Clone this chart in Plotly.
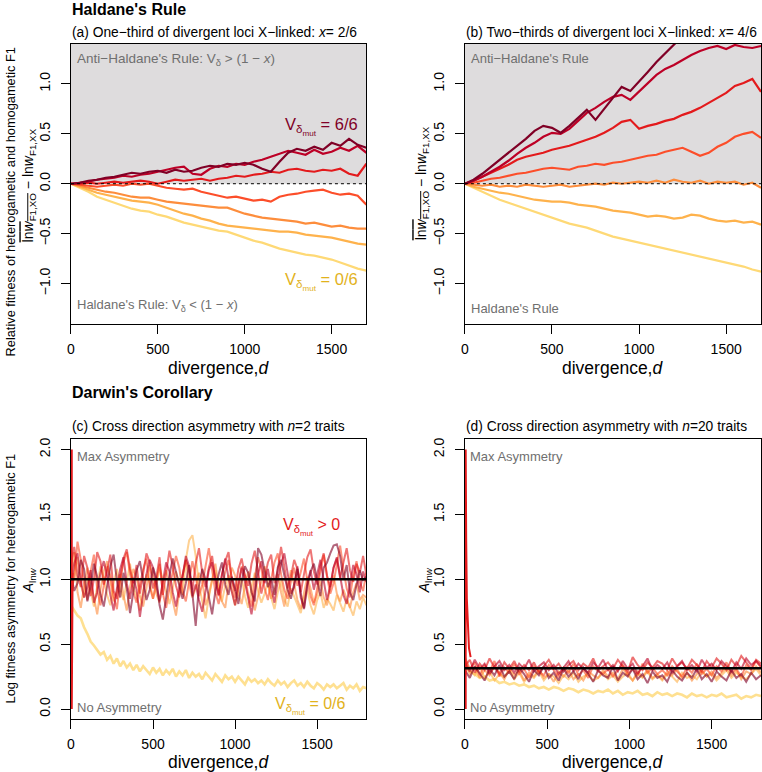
import plotly.graph_objects as go

# ---------------- data ----------------
D_AB = list(range(0, 1701, 50))   # divergence grid, panels (a),(b)
D_C = list(range(0, 1801, 20))    # divergence grid, panel (c)
D_D = list(range(0, 1801, 30))    # divergence grid, panel (d)

COLORS = ["#800026", "#bd0026", "#e31a1c", "#fc4e2a", "#fd8d3c", "#feb24c", "#fed976"]

# panel (a): x = 2/6, V_delta_mut = 6/6 ... 0/6
A1 = [0, 0.01, 0.03, 0.04, 0.06, 0.07, 0.09, 0.11, 0.10, 0.12, 0.13, 0.11, 0.14, 0.12, 0.13, 0.16, 0.18, 0.17,
      0.20, 0.19, 0.21, 0.19, 0.15, 0.12, 0.22, 0.31, 0.35, 0.33, 0.37, 0.34, 0.41, 0.38, 0.45, 0.39, 0.36]
A2 = [0, 0.01, 0.02, 0.04, 0.05, 0.06, 0.08, 0.07, 0.09, 0.10, 0.12, 0.14, 0.16, 0.17, 0.10, 0.09, 0.15, 0.18,
      0.17, 0.20, 0.19, 0.22, 0.24, 0.27, 0.30, 0.33, 0.31, 0.29, 0.34, 0.30, 0.32, 0.36, 0.33, 0.38, 0.31]
A3 = [0, 0.0, 0.01, 0.0, 0.01, 0.02, 0.01, 0.02, 0.03, 0.02, 0.0, 0.02, 0.04, 0.03, 0.04, 0.05, 0.03, 0.05,
      0.06, 0.08, 0.07, 0.09, 0.10, 0.12, 0.11, 0.14, 0.15, 0.13, 0.12, 0.14, 0.13, 0.15, 0.10, 0.08, 0.20]
A4 = [0, -0.01, -0.02, -0.03, -0.02, -0.01, -0.02, 0.0, -0.01, 0.0, -0.02, -0.04, -0.05, -0.06, -0.05, -0.08,
      -0.10, -0.12, -0.14, -0.13, -0.15, -0.17, -0.16, -0.18, -0.13, -0.11, -0.10, -0.08, -0.07, -0.06, -0.09,
      -0.11, -0.10, -0.12, -0.21]
A5 = [0, -0.02, -0.04, -0.06, -0.08, -0.09, -0.11, -0.13, -0.14, -0.14, -0.16, -0.18, -0.19, -0.20, -0.21,
      -0.22, -0.23, -0.24, -0.24, -0.27, -0.30, -0.32, -0.34, -0.35, -0.36, -0.37, -0.38, -0.40, -0.39, -0.41,
      -0.43, -0.42, -0.44, -0.45, -0.45]
A6 = [0, -0.03, -0.06, -0.09, -0.11, -0.13, -0.15, -0.17, -0.18, -0.19, -0.21, -0.24, -0.27, -0.30, -0.32,
      -0.35, -0.37, -0.40, -0.42, -0.43, -0.44, -0.45, -0.46, -0.47, -0.48, -0.48, -0.49, -0.51, -0.52, -0.53,
      -0.54, -0.56, -0.58, -0.60, -0.61]
A7 = [0, -0.04, -0.08, -0.13, -0.16, -0.19, -0.22, -0.25, -0.27, -0.28, -0.31, -0.33, -0.36, -0.39, -0.41,
      -0.43, -0.45, -0.47, -0.48, -0.51, -0.54, -0.57, -0.59, -0.62, -0.65, -0.67, -0.69, -0.71, -0.72, -0.74,
      -0.76, -0.79, -0.82, -0.85, -0.87]

# panel (b): x = 4/6
B1 = [0, 0.04, 0.10, 0.17, 0.24, 0.31, 0.38, 0.45, 0.53, 0.58, 0.56, 0.51, 0.58, 0.66, 0.74, 0.64, 0.75, 0.86,
      0.97, 0.93, 1.02, 1.12, 1.22, 1.31, 1.40, 1.48, 1.55, 1.60, 1.66, 1.70, 1.75, 1.79, 1.83, 1.86, 1.90]
B2 = [0, 0.03, 0.07, 0.12, 0.17, 0.23, 0.30, 0.36, 0.41, 0.47, 0.51, 0.50, 0.55, 0.63, 0.71, 0.76, 0.82, 0.87,
      0.89, 0.84, 0.92, 1.01, 1.09, 1.15, 1.19, 1.24, 1.29, 1.33, 1.36, 1.38, 1.35, 1.39, 1.37, 1.36, 1.38]
B3 = [0, 0.03, 0.07, 0.11, 0.15, 0.19, 0.24, 0.27, 0.29, 0.31, 0.34, 0.36, 0.38, 0.41, 0.44, 0.47, 0.51, 0.56,
      0.62, 0.64, 0.55, 0.58, 0.60, 0.63, 0.65, 0.69, 0.72, 0.76, 0.81, 0.86, 0.91, 0.98, 1.01, 1.05, 0.92]
B4 = [0, 0.01, 0.03, 0.05, 0.06, 0.08, 0.10, 0.11, 0.13, 0.15, 0.16, 0.15, 0.14, 0.17, 0.18, 0.20, 0.19, 0.21,
      0.22, 0.24, 0.26, 0.28, 0.29, 0.32, 0.34, 0.36, 0.32, 0.28, 0.31, 0.37, 0.41, 0.47, 0.50, 0.52, 0.46]
B5 = [0, -0.01, -0.02, -0.01, -0.03, -0.02, -0.03, -0.01, -0.02, -0.03, -0.02, -0.01, -0.03, -0.02, -0.01, 0.0,
      -0.01, 0.01, 0.0, 0.01, 0.02, 0.01, 0.03, 0.01, 0.04, 0.02, 0.01, 0.03, 0.0, 0.02, 0.01, 0.02, -0.01,
      0.01, -0.04]
B6 = [0, -0.03, -0.05, -0.07, -0.09, -0.10, -0.12, -0.14, -0.16, -0.17, -0.18, -0.18, -0.19, -0.21, -0.22,
      -0.23, -0.25, -0.27, -0.28, -0.29, -0.31, -0.33, -0.32, -0.33, -0.35, -0.34, -0.31, -0.32, -0.35, -0.37,
      -0.38, -0.37, -0.39, -0.38, -0.41]
B7 = [0, -0.04, -0.08, -0.12, -0.16, -0.19, -0.22, -0.25, -0.28, -0.31, -0.34, -0.37, -0.40, -0.42, -0.44,
      -0.47, -0.50, -0.53, -0.55, -0.57, -0.59, -0.61, -0.63, -0.65, -0.67, -0.69, -0.71, -0.73, -0.75, -0.77,
      -0.79, -0.81, -0.83, -0.86, -0.88]

# panel (c): n = 2 traits (step 20)
C1 = [1.04, 0.91, 0.97, 1.15, 1.08, 0.83, 0.95, 1.12, 1.02, 0.88,
      0.79, 0.96, 1.10, 1.19, 0.99, 0.86, 1.05, 0.93, 0.74, 0.90,
      1.07, 1.14, 0.98, 0.84, 0.92, 1.09, 1.01, 0.80, 0.69, 0.87,
      1.03, 1.16, 1.06, 0.94, 0.85, 0.97, 1.11, 0.89, 0.64, 0.95,
      1.08, 1.00, 0.86, 0.73, 0.91, 1.04, 1.13, 0.96, 0.88, 1.02,
      0.93, 0.81, 0.98, 1.10, 1.05, 0.90, 0.83, 1.24, 1.19, 1.06,
      0.94, 1.01, 0.88, 1.09, 1.15, 1.03, 0.92, 0.85, 0.97, 1.08,
      0.89, 0.77, 0.95, 1.06, 1.12, 0.98, 0.87, 1.09, 1.13, 1.20,
      1.26, 1.27, 1.18, 1.00, 1.11, 0.90, 0.84, 0.96, 1.07, 0.99, 1.02]
C2 = [0.96, 1.12, 1.20, 0.99, 0.86, 0.94, 1.07, 0.82, 0.90, 1.05,
      1.14, 1.03, 0.88, 0.76, 0.93, 1.08, 1.17, 0.97, 0.85, 1.01,
      0.92, 0.71, 0.89, 1.04, 1.15, 1.09, 0.95, 0.83, 0.98, 1.13,
      1.06, 0.90, 0.79, 0.94, 1.02, 1.18, 1.10, 0.87, 0.96, 0.84,
      0.75, 0.92, 1.07, 1.13, 0.99, 0.88, 1.03, 1.16, 1.01, 0.91,
      0.80, 0.95, 1.09, 0.98, 0.86, 0.73, 0.90, 1.04, 1.14, 0.97,
      1.08, 0.93, 0.82, 0.99, 1.12, 1.20, 1.05, 0.89, 0.94, 1.10,
      0.86, 0.78, 0.97, 1.07, 0.92, 1.03, 1.15, 0.99, 0.84, 0.95,
      1.09, 1.17, 1.02, 0.88, 0.81, 0.96, 1.11, 1.04, 0.90, 1.06, 0.98]
C3 = [1.12, 1.25, 1.03, 0.94, 1.18, 1.09, 0.87, 1.00, 1.21, 1.14,
      0.96, 1.06, 1.19, 0.91, 0.85, 1.02, 1.16, 1.23, 1.08, 0.97,
      1.11, 0.89, 1.04, 1.20, 1.13, 0.93, 1.01, 1.17, 0.88, 1.06,
      1.22, 1.10, 0.95, 0.86, 1.03, 1.15, 1.07, 0.92, 1.12, 1.24,
      1.05, 0.94, 1.09, 1.18, 0.99, 0.87, 1.04, 1.14, 1.21, 1.00,
      0.91, 1.08, 1.16, 1.03, 0.95, 1.12, 1.22, 1.06, 0.89, 1.01,
      1.13, 1.19, 0.97, 1.07, 1.25, 1.10, 0.93, 1.02, 1.15, 1.08,
      0.90, 1.04, 1.17, 1.23, 1.06, 0.96, 1.11, 1.20, 1.03, 0.94,
      1.09, 1.16, 1.01, 1.13, 1.24, 1.07, 0.98, 1.12, 1.05, 1.18, 1.03]
C4 = [0.88, 1.02, 1.29, 1.15, 0.97, 0.84, 1.06, 1.19, 0.92, 0.80,
      0.95, 1.10, 1.03, 0.87, 0.77, 0.99, 1.13, 1.21, 1.04, 0.90,
      0.82, 0.96, 1.08, 1.16, 0.94, 0.85, 1.00, 1.12, 0.89, 0.78,
      0.93, 1.05, 1.18, 1.09, 0.91, 0.83, 0.98, 1.14, 1.02, 0.87,
      0.96, 1.11, 1.24, 1.07, 0.90, 0.81, 0.94, 1.06, 1.15, 0.99,
      0.86, 0.97, 1.10, 1.03, 0.88, 0.79, 1.01, 1.17, 1.08, 0.93,
      0.84, 1.00, 1.13, 1.20, 1.04, 0.92, 0.85, 0.98, 1.09, 0.95,
      1.06, 1.16, 0.99, 0.87, 0.80, 0.94, 1.07, 1.19, 1.02, 0.89,
      0.97, 1.12, 1.26, 1.08, 0.93, 0.86, 1.03, 1.14, 0.98, 0.91, 1.05]
C5 = [1.00, 1.21, 0.90, 0.78, 0.95, 1.09, 0.99, 0.85, 0.73, 0.92,
      1.06, 1.14, 0.97, 0.83, 0.91, 1.04, 0.88, 0.76, 0.94, 1.08,
      1.01, 0.87, 0.79, 0.93, 1.11, 1.03, 0.89, 0.82, 0.98, 1.07,
      0.95, 0.84, 0.72, 0.90, 1.02, 1.15, 0.96, 0.86, 0.93, 1.05,
      0.99, 0.80, 0.88, 1.01, 1.12, 0.94, 0.83, 0.78, 0.97, 1.09,
      1.03, 0.89, 0.81, 0.95, 1.06, 0.92, 0.76, 0.87, 1.00, 1.10,
      0.98, 0.85, 0.92, 1.04, 0.90, 0.79, 0.94, 1.07, 0.96, 0.84,
      0.77, 0.91, 1.02, 0.93, 0.82, 0.88, 0.99, 0.86, 0.80, 0.94,
      1.03, 0.89, 0.83, 0.92, 0.85, 0.78, 0.90, 0.97, 0.84, 0.88, 0.86]
C6 = [0.83, 1.05, 1.17, 0.96, 0.86, 1.02, 0.91, 0.79, 0.95, 1.10,
      1.01, 0.88, 0.80, 0.97, 1.08, 0.93, 0.84, 0.99, 1.12, 0.94,
      0.87, 0.76, 0.92, 1.04, 0.98, 0.85, 0.95, 1.09, 1.00, 0.89,
      0.81, 0.93, 1.06, 0.97, 0.88, 1.15, 1.30, 1.34, 1.18, 0.96,
      0.84, 0.70, 0.86, 0.99, 1.07, 0.92, 0.83, 0.95, 1.03, 0.90,
      0.80, 0.92, 1.01, 0.87, 0.78, 0.94, 1.05, 0.91, 0.82, 0.89,
      0.97, 0.86, 0.77, 0.90, 0.99, 0.85, 0.79, 0.93, 0.87, 0.81,
      0.74, 0.86, 0.92, 0.80, 0.73, 0.84, 0.90, 0.78, 0.85, 0.81,
      0.76, 0.88, 0.82, 0.75, 0.85, 0.79, 0.72, 0.83, 0.77, 0.86, 0.80]
C7 = [0.80, 0.76, 0.72, 0.70, 0.63, 0.58, 0.52, 0.49, 0.45, 0.42,
      0.44, 0.38, 0.41, 0.35, 0.39, 0.33, 0.37, 0.32, 0.35, 0.30,
      0.34, 0.29, 0.33, 0.30, 0.27, 0.32, 0.28, 0.31, 0.26, 0.30,
      0.27, 0.31, 0.25, 0.29, 0.26, 0.30, 0.24, 0.28, 0.25, 0.27,
      0.23, 0.28, 0.25, 0.22, 0.27, 0.24, 0.21, 0.26, 0.23, 0.25,
      0.21, 0.25, 0.22, 0.19, 0.24, 0.21, 0.23, 0.20, 0.22, 0.19,
      0.23, 0.20, 0.18, 0.22, 0.19, 0.21, 0.17, 0.20, 0.22, 0.18,
      0.20, 0.17, 0.21, 0.18, 0.16, 0.20, 0.18, 0.15, 0.19, 0.17,
      0.19, 0.16, 0.18, 0.20, 0.15, 0.18, 0.16, 0.19, 0.14, 0.17, 0.16]

# panel (d): n = 20 traits (step 30)
D1 = [0.30, 0.24, 0.33, 0.27, 0.22, 0.31, 0.26, 0.34, 0.25, 0.29,
      0.23, 0.32, 0.27, 0.21, 0.30, 0.26, 0.33, 0.24, 0.28, 0.22,
      0.31, 0.25, 0.29, 0.23, 0.32, 0.27, 0.21, 0.30, 0.26, 0.24,
      0.33, 0.22, 0.28, 0.25, 0.31, 0.23, 0.27, 0.20, 0.29, 0.24,
      0.26, 0.21, 0.30, 0.25, 0.22, 0.28, 0.24, 0.31, 0.23, 0.27,
      0.21, 0.29, 0.25, 0.22, 0.30, 0.24, 0.27, 0.21, 0.28, 0.23, 0.26]
D2 = [0.36, 0.29, 0.38, 0.31, 0.35, 0.27, 0.33, 0.37, 0.30, 0.34,
      0.28, 0.35, 0.31, 0.38, 0.29, 0.33, 0.36, 0.30, 0.34, 0.27,
      0.32, 0.37, 0.29, 0.35, 0.31, 0.28, 0.36, 0.32, 0.38, 0.30,
      0.34, 0.29, 0.37, 0.31, 0.35, 0.27, 0.33, 0.39, 0.30, 0.34,
      0.31, 0.36, 0.28, 0.33, 0.37, 0.30, 0.34, 0.29, 0.38, 0.32,
      0.35, 0.30, 0.37, 0.33, 0.29, 0.36, 0.31, 0.39, 0.34, 0.37, 0.33]
D3 = [0.33, 0.38, 0.28, 0.35, 0.30, 0.39, 0.32, 0.27, 0.36, 0.31,
      0.37, 0.29, 0.34, 0.30, 0.36, 0.28, 0.33, 0.38, 0.31, 0.35,
      0.29, 0.34, 0.37, 0.30, 0.35, 0.32, 0.39, 0.30, 0.33, 0.36,
      0.31, 0.38, 0.33, 0.29, 0.40, 0.34, 0.30, 0.36, 0.32, 0.37,
      0.35, 0.30, 0.39, 0.33, 0.36, 0.31, 0.38, 0.34, 0.29, 0.37,
      0.32, 0.39, 0.35, 0.30, 0.38, 0.33, 0.41, 0.36, 0.31, 0.38, 0.35]
D4 = [0.40, 0.31, 0.36, 0.26, 0.34, 0.29, 0.37, 0.25, 0.32, 0.28,
      0.35, 0.27, 0.31, 0.24, 0.33, 0.29, 0.26, 0.34, 0.30, 0.25,
      0.32, 0.28, 0.35, 0.26, 0.30, 0.24, 0.33, 0.29, 0.27, 0.31,
      0.25, 0.30, 0.34, 0.27, 0.31, 0.26, 0.35, 0.28, 0.32, 0.27,
      0.30, 0.26, 0.33, 0.29, 0.25, 0.32, 0.28, 0.35, 0.27, 0.31,
      0.26, 0.33, 0.29, 0.36, 0.28, 0.31, 0.25, 0.34, 0.30, 0.37, 0.32]
D5 = [0.35, 0.27, 0.32, 0.24, 0.30, 0.26, 0.33, 0.28, 0.23, 0.31,
      0.26, 0.30, 0.22, 0.28, 0.25, 0.31, 0.24, 0.27, 0.21, 0.29,
      0.25, 0.30, 0.23, 0.27, 0.22, 0.29, 0.26, 0.24, 0.30, 0.25,
      0.28, 0.23, 0.31, 0.26, 0.22, 0.29, 0.25, 0.30, 0.24, 0.27,
      0.23, 0.29, 0.26, 0.31, 0.24, 0.28, 0.22, 0.27, 0.30, 0.25,
      0.29, 0.24, 0.28, 0.32, 0.26, 0.30, 0.23, 0.29, 0.27, 0.33, 0.28]
D6 = [0.38, 0.30, 0.26, 0.33, 0.24, 0.29, 0.22, 0.27, 0.25, 0.30,
      0.23, 0.28, 0.21, 0.26, 0.24, 0.29, 0.22, 0.27, 0.25, 0.20,
      0.26, 0.23, 0.28, 0.21, 0.25, 0.27, 0.22, 0.24, 0.28, 0.23,
      0.26, 0.21, 0.25, 0.28, 0.22, 0.27, 0.24, 0.29, 0.23, 0.26,
      0.22, 0.27, 0.25, 0.21, 0.28, 0.24, 0.26, 0.23, 0.29, 0.25,
      0.27, 0.22, 0.26, 0.30, 0.24, 0.28, 0.25, 0.23, 0.27, 0.31, 0.26]
D7 = [0.34, 0.29, 0.27, 0.24, 0.25, 0.22, 0.23, 0.20, 0.21, 0.19,
      0.20, 0.18, 0.19, 0.17, 0.18, 0.16, 0.17, 0.15, 0.17, 0.16,
      0.14, 0.16, 0.15, 0.13, 0.15, 0.14, 0.12, 0.14, 0.13, 0.15,
      0.12, 0.14, 0.11, 0.13, 0.12, 0.14, 0.11, 0.12, 0.10, 0.13,
      0.11, 0.12, 0.10, 0.12, 0.11, 0.09, 0.12, 0.10, 0.11, 0.09,
      0.11, 0.10, 0.12, 0.09, 0.10, 0.11, 0.08, 0.10, 0.09, 0.11, 0.10]

# initial transient at d ~ 0 (red series)
SPIKE_C_D = [5, 5, 10]
SPIKE_C = [2.0, 0.0, 1.05]
SPIKE_D_D = [5, 5, 8, 12, 18, 25, 35]
SPIKE_D = [0.0, 2.0, 1.3, 0.85, 0.6, 0.47, 0.40]

MEAN_C = 1.0     # expected asymmetry, n = 2
MEAN_D = 0.315   # expected asymmetry, n = 20

X_TICKS = [0, 500, 1000, 1500]
Y_TICKS_AB = [-1.0, -0.5, 0.0, 0.5, 1.0]
Y_TICKS_CD = [0.0, 0.5, 1.0, 1.5, 2.0]

# ---------------- figure ----------------
W, H = 762, 772
FONT = "Liberation Sans, Arial, Helvetica, sans-serif"


def px(x):
    return x / W


def py(y):
    return 1 - y / H


fig = go.Figure()

panels = [
    ("x", "y", D_AB, [A1, A2, A3, A4, A5, A6, A7], 1.0, 2.2),
    ("x2", "y2", D_AB, [B1, B2, B3, B4, B5, B6, B7], 1.0, 2.2),
    ("x3", "y3", D_C, [C1, C2, C3, C4, C5, C6, C7], 0.6, 2.0),
    ("x4", "y4", D_D, [D1, D2, D3, D4, D5, D6, D7], 0.62, 2.0),
]
for xa, ya, dgrid, series, op, lw in panels:
    for k in range(len(series) - 1, -1, -1):
        vals = series[k]
        o, w = op, lw
        if xa in ("x3", "x4") and k == 6:
            o, w = 0.8, 2.6
        fig.add_trace(go.Scatter(x=dgrid[:len(vals)], y=vals, mode="lines", xaxis=xa, yaxis=ya,
                                 line=dict(color=COLORS[k], width=w), opacity=o,
                                 showlegend=False, hoverinfo="skip"))

fig.add_trace(go.Scatter(x=SPIKE_C_D, y=SPIKE_C, mode="lines", xaxis="x3", yaxis="y3",
                         line=dict(color=COLORS[2], width=2), showlegend=False, hoverinfo="skip"))
fig.add_trace(go.Scatter(x=SPIKE_D_D, y=SPIKE_D, mode="lines", xaxis="x4", yaxis="y4",
                         line=dict(color=COLORS[2], width=2), showlegend=False, hoverinfo="skip"))
fig.add_trace(go.Scatter(x=[0, 1800], y=[MEAN_C, MEAN_C], mode="lines", xaxis="x3", yaxis="y3",
                         line=dict(color="black", width=2.6), showlegend=False, hoverinfo="skip"))
fig.add_trace(go.Scatter(x=[0, 1800], y=[MEAN_D, MEAN_D], mode="lines", xaxis="x4", yaxis="y4",
                         line=dict(color="black", width=2.6), showlegend=False, hoverinfo="skip"))

XDOM_L = [67.3 / W, 364.3 / W]
XDOM_R = [463.3 / W, 761.0 / W]
YDOM_T = [py(322.7), py(41.7)]
YDOM_B = [py(719.3), py(438.3)]

axcommon = dict(showline=True, linecolor="black", linewidth=1, mirror=True, ticks="outside",
                ticklen=9, tickcolor="black", tickwidth=1, showgrid=False, zeroline=False,
                tickfont=dict(family=FONT, size=14, color="black"))


def fmt(v):
    return f"{v:.1f}".replace("-", "\u2212")


xax = dict(axcommon, tickvals=X_TICKS, ticktext=[str(t) for t in X_TICKS], ticklabelstandoff=3)
yax_ab = dict(axcommon, range=[-1.404, 1.404], tickvals=Y_TICKS_AB, ticktext=[fmt(v) for v in Y_TICKS_AB],
              tickangle=-90, ticklabelstandoff=5)
yax_cd = dict(axcommon, range=[-0.08, 2.08], tickvals=Y_TICKS_CD, ticktext=[fmt(v) for v in Y_TICKS_CD],
              tickangle=-90, ticklabelstandoff=5)

fig.update_layout(
    width=W, height=H, autosize=False,
    margin=dict(l=0, r=0, t=0, b=0),
    paper_bgcolor="white", plot_bgcolor="white",
    font=dict(family=FONT, color="black"),
    xaxis=dict(xax, domain=XDOM_L, range=[0, 1700], anchor="y"),
    yaxis=dict(yax_ab, domain=YDOM_T, anchor="x"),
    xaxis2=dict(xax, domain=XDOM_R, range=[0, 1700], anchor="y2"),
    yaxis2=dict(yax_ab, domain=YDOM_T, anchor="x2"),
    xaxis3=dict(xax, domain=XDOM_L, range=[0, 1800], anchor="y3"),
    yaxis3=dict(yax_cd, domain=YDOM_B, anchor="x3"),
    xaxis4=dict(xax, domain=XDOM_R, range=[0, 1800], anchor="y4"),
    yaxis4=dict(yax_cd, domain=YDOM_B, anchor="x4"),
)

# shaded Anti-Haldane region and dotted zero line
for xr, yr in (("x", "y"), ("x2", "y2")):
    fig.add_shape(type="rect", xref=f"{xr} domain", yref=yr, x0=0, x1=1, y0=0, y1=1.404,
                  fillcolor="#dedcdd", line=dict(width=0), layer="below")
    fig.add_shape(type="line", xref=f"{xr} domain", yref=yr, x0=0, x1=1, y0=0, y1=0,
                  line=dict(color="black", width=1, dash="dot"), layer="above")

GRAY = "#6f6f6f"
ann = []


def T(x, y, text, size=14, color="black", xanchor="left", yanchor="middle", angle=0, xref="paper", yref="paper"):
    ann.append(dict(x=x, y=y, xref=xref, yref=yref, text=text, showarrow=False, xanchor=xanchor,
                    yanchor=yanchor, textangle=angle, font=dict(family=FONT, size=size, color=color)))


SUB = 13.8
# headings
T(px(66), py(8), "<b>Haldane's Rule</b>", size=16)
T(px(66), py(31), "(a) One\u2212third of divergent loci X\u2212linked: <i>x</i>= 2/6", size=SUB)
T(px(462), py(31), "(b) Two\u2212thirds of divergent loci X\u2212linked: <i>x</i>= 4/6", size=SUB)
T(px(66), py(392), "<b>Darwin's Corollary</b>", size=16)
T(px(66), py(426), "(c) Cross direction asymmetry with <i>n</i>=2 traits", size=SUB)
T(px(462), py(426), "(d) Cross direction asymmetry with <i>n</i>=20 traits", size=SUB)

# x titles
for cx, cy in ((216, 367), (612, 367), (216, 762), (612, 762)):
    T(px(cx), py(cy), "divergence,<i>d</i>", size=17.5, xanchor="center")

# y titles
LNW = ("<span style=\"text-decoration:overline\">ln<i>w</i><sub>F1,XO</sub></span>"
       " \u2212 ln<i>w</i><sub>F1,XX</sub>")
T(px(7), py(200), "Relative fitness of heterogametic and homogametic F1", size=12.8, xanchor="center", angle=-90)
T(px(25), py(184), LNW, size=14, xanchor="center", angle=-90)
T(px(420), py(182), LNW, size=14, xanchor="center", angle=-90)
T(px(7), py(578), "Log fitness asymmetry for heterogametic F1", size=12.8, xanchor="center", angle=-90)
T(px(26), py(580), "<i>A</i><sub>ln<i>w</i></sub>", size=14, xanchor="center", angle=-90)
T(px(424), py(580), "<i>A</i><sub>ln<i>w</i></sub>", size=14, xanchor="center", angle=-90)

# in-panel labels
T(25, 1.24, "Anti\u2212Haldane's Rule: V<sub>\u03b4</sub> > (1 \u2212 <i>x</i>)", size=13.5, color=GRAY,
  xref="x", yref="y")
T(25, -1.22, "Haldane's Rule: V<sub>\u03b4</sub> < (1 \u2212 <i>x</i>)", size=13, color=GRAY, xref="x", yref="y")
T(25, 1.25, "Anti\u2212Haldane's Rule", size=13, color=GRAY, xref="x2", yref="y2")
T(25, -1.25, "Haldane's Rule", size=13, color=GRAY, xref="x2", yref="y2")
T(1665, 0.57, "V<sub>\u03b4<sub>mut</sub></sub> = 6/6", size=16.5, color="#800026", xanchor="right",
  xref="x", yref="y")
T(1665, -0.98, "V<sub>\u03b4<sub>mut</sub></sub> = 0/6", size=16.5, color="#e2b21c", xanchor="right",
  xref="x", yref="y")
for xr, yr in (("x3", "y3"), ("x4", "y4")):
    T(22, 1.95, "Max Asymmetry", size=13, color=GRAY, xref=xr, yref=yr)
    T(22, 0.01, "No Asymmetry", size=13, color=GRAY, xref=xr, yref=yr)
T(1650, 1.40, "V<sub>\u03b4<sub>mut</sub></sub> > 0", size=16, color="#e31a1c", xanchor="right",
  xref="x3", yref="y3")
T(1685, 0.02, "V<sub>\u03b4<sub>mut</sub></sub> = 0/6", size=16, color="#e2b21c", xanchor="right",
  xref="x3", yref="y3")

fig.update_layout(annotations=ann)
fig.write_html("out.html", config={"displayModeBar": False},
               post_script="document.body.style.margin='0px';")
